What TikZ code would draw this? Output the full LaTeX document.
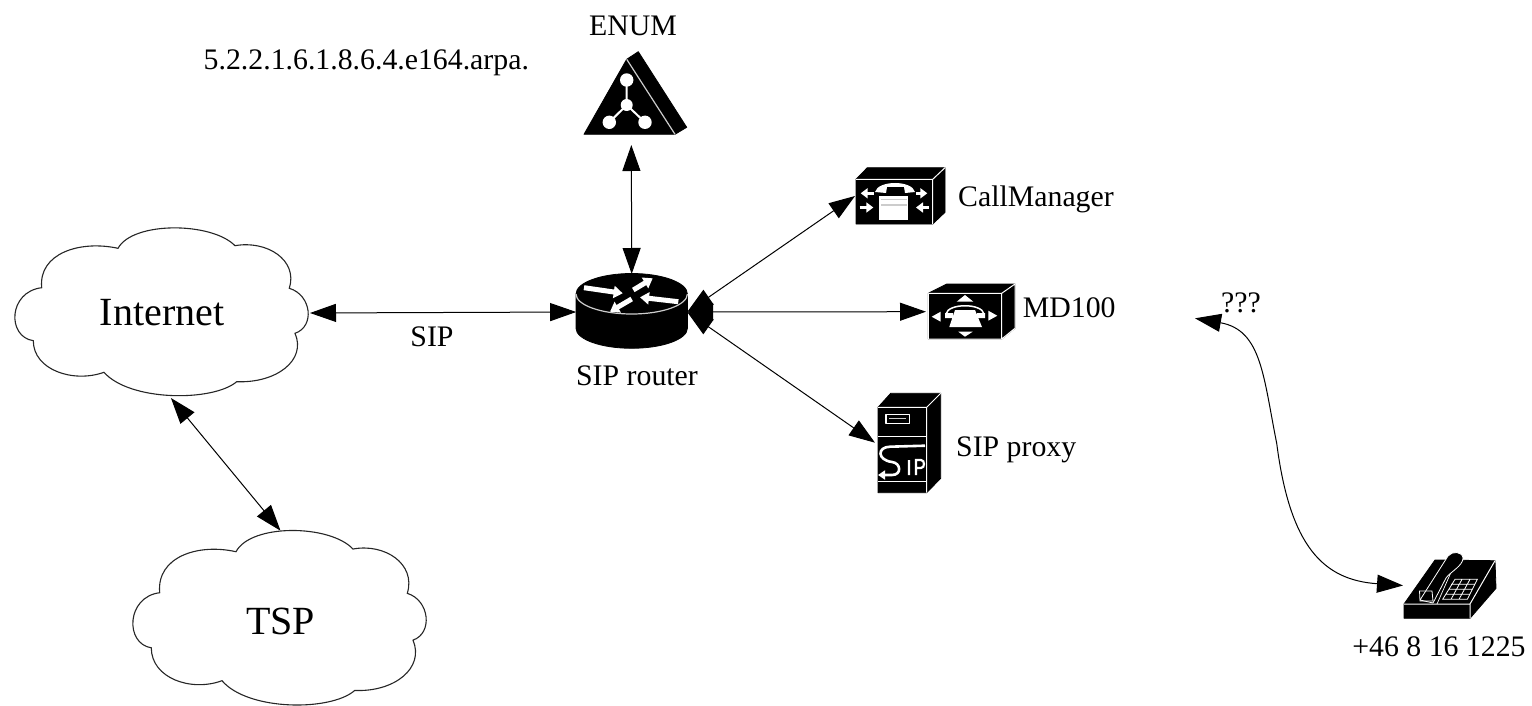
\documentclass[tikz,border=0pt]{standalone}
\usepackage{fontspec}
\setmainfont{Liberation Serif}
\usetikzlibrary{arrows.meta}
\tikzset{
  link/.style={line width=1pt,black,<->,>={Triangle[length=26pt,width=18pt]}},
  cloudline/.style={line width=1.1pt,black!85,fill=white},
  bigtext/.style={font=\fontsize{40}{44}\selectfont,inner sep=0pt,outer sep=0pt},
  small/.style={font=\fontsize{29.8}{34}\selectfont,inner sep=0pt},
  slot/.style={inner sep=0pt,outer sep=0pt,rectangle},
  solid black/.style={fill=black,draw=black,line width=0.8pt,line join=round},
  wline/.style={white,line width=1pt,line join=round},
  gline/.style={black!20,line width=1.2pt,line join=round},
  warrow/.style={white,line width=5pt,-{Triangle[length=9pt,width=12pt]}},
  warrowthin/.style={white,line width=2.6pt,-{Triangle[length=7pt,width=10pt]}}
}
\newcommand{\cloudpath}{(118,248.3) .. controls (133,221) and (212,222) .. (235,245.7)
  .. controls (266.7,240) and (298.3,260) .. (289.3,288.3)
  .. controls (311.7,295) and (315,326.7) .. (295,333.3)
  .. controls (306.7,360) and (276.7,383.3) .. (236.7,381.7)
  .. controls (213.3,401.7) and (130,401.7) .. (104,372.3)
  .. controls (73.3,383.3) and (33.3,370) .. (33.3,340.7)
  .. controls (6.7,336.7) and (8.3,291.7) .. (41.7,287.7)
  .. controls (38.3,253.3) and (80,240) .. (118,248.3) -- cycle}
\begin{document}
\begin{tikzpicture}[x=1pt,y=-1pt]
\useasboundingbox (0,0) rectangle (1532,706);
% clouds
\draw[cloudline] \cloudpath;
\begin{scope}[shift={(118,293.5)},yscale=1.04]
\draw[cloudline] \cloudpath;
\end{scope}
\node[slot,bigtext,minimum width=296pt,minimum height=170pt] (internet) at (162,313) {Internet};
\node[slot,bigtext,minimum width=295pt,minimum height=180.6pt] (tsp) at (280.5,621) {TSP};
% ENUM icon
\fill[solid black] (626.7,59.3) -- (638.3,51.7) -- (686.7,127.3) -- (675,134.3) -- (584,134.3) -- cycle;
\draw[gline] (626.7,59.3) -- (675,134.3);
\draw[white,line width=2pt] (626.7,80) -- (626.7,105) (609.3,122.3) -- (626.7,105) -- (645,122.3);
\fill[white] (626.7,80) circle (6.7pt) (626.7,105) circle (6pt) (609.3,122.3) circle (6.7pt) (645,122.3) circle (6.7pt);
\node[slot,minimum width=110pt,minimum height=82pt] (enum) at (631.3,93) {};
% router icon
\fill[solid black] (576,294) -- (576,328.3) arc[start angle=180,end angle=360,x radius=55.7pt,y radius=20pt] -- (687.4,294) arc[start angle=0,end angle=180,x radius=55.7pt,y radius=20.5pt] -- cycle;
\draw[gline] (576,294) arc[start angle=180,end angle=360,x radius=55.7pt,y radius=20pt];
\draw[warrow] (584,287.7) -- (622.7,293.3);
\draw[warrow] (633.3,290) -- (652.7,278.3);
\draw[warrow] (678.3,301.7) -- (640,297.3);
\draw[warrow] (631.7,299) -- (610,311.7);
\node[slot,minimum width=111pt,minimum height=76pt] (router) at (631.7,312) {};
% CallManager icon
\fill[solid black] (856,179.3) -- (867.3,167.7) -- (945,167.7) -- (945,212.3) -- (932.7,224) -- (856,224) -- cycle;
\draw[wline] (856,179.3) -- (932.7,179.3) -- (932.7,224) (932.7,179.3) -- (945,167.7);
\fill[white] (875,192) .. controls (878,180) and (912,180) .. (915,192) -- (905,193) -- (904,187) -- (887,187) -- (886,193) -- cycle;
\fill[white] (879.3,196) rectangle (908.3,220);
\draw[gline] (881,199.5) -- (906.5,199.5) (881,205) -- (906.5,205);
\draw[warrowthin] (873.5,193.3) -- (860.7,193.3);
\draw[warrowthin] (859.5,207.5) -- (873.3,207.5);
\draw[warrowthin] (916,193.3) -- (927.3,193.3);
\draw[warrowthin] (928.5,207.5) -- (916,207.5);
\node[slot,minimum width=90pt,minimum height=57pt] (cm) at (900,196) {};
% MD100 icon
\fill[solid black] (928.3,293.3) -- (946.7,284) -- (1015,284) -- (1015,328.3) -- (1001.7,339) -- (928.3,339) -- cycle;
\draw[wline] (928.3,293.3) -- (1001.7,293.3) -- (1001.7,339) (1001.7,293.3) -- (1015,284) -- (1015,328.3) -- (1001.7,339) -- (928.3,339) -- (928.3,293.3);
\fill[white] (965,295) -- (956.7,301.7) -- (973.3,301.7) -- cycle;
\fill[white] (965,336.7) -- (958.3,331.7) -- (972.7,331.7) -- cycle;
\fill[white] (931.7,316.7) -- (940.7,311.7) -- (940.7,321.7) -- cycle;
\fill[white] (997.3,315.7) -- (988.3,310.7) -- (988.3,320.7) -- cycle;
\draw[white,line width=1.5pt] (946,314) .. controls (948,303) and (982,303) .. (984,314);
\fill[white] (955,310) -- (975,310) -- (982,327) -- (949.3,327) -- cycle;
\fill[white] (945,313) rectangle (953,318) (977,313) rectangle (985,318);
\node[slot,minimum width=90pt,minimum height=57pt] (md) at (971,311.7) {};
% SIP proxy icon
\fill[solid black] (878,407.3) -- (890.7,393.3) -- (940.7,393.3) -- (940.7,478.3) -- (926.7,492.7) -- (878,492.7) -- cycle;
\draw[wline] (878,407.3) -- (926.7,407.3) -- (926.7,492.7) (926.7,407.3) -- (940.7,393.3);
\draw[wline] (878,436) -- (926.7,436) (878,481.7) -- (926.7,481.7);
\draw[wline,line width=1.2pt] (886,414.3) rectangle (909.3,423.3);
\draw[gline] (889,418.8) -- (906,418.8);
\draw[white,line width=2.6pt,-{Triangle[length=7pt,width=9pt]}] (925,445.7) -- (890,446.7) .. controls (877,447) and (877,460) .. (892,462) .. controls (901,463) and (902,475) .. (892,475) -- (878,475);
\draw[white,line width=2.2pt] (909,460) -- (909,475) (916,475) -- (916,460) -- (921,460) .. controls (925,460) and (925,468) .. (921,468) -- (916,468);
\node[slot,minimum width=64pt,minimum height=100pt] (proxy) at (907,442.7) {};
% telephone icon
\fill[solid black] (1435,560) -- (1495,560.7) -- (1496,588.3) -- (1470,618.3) -- (1404,618.3) -- (1404,604) -- cycle;
\draw[wline] (1404,604) -- (1470,604) -- (1495,560.7) (1470,604) -- (1470,618.3);
\draw[white,line width=.7pt] (1452,570) -- (1437,604);
\fill[black,draw=white,line width=.8pt,line join=round] (1420,600) -- (1448,556) .. controls (1452,551) and (1462,551) .. (1463,558) .. controls (1463,566) and (1450,572) .. (1446,578) -- (1433,603) -- cycle;
\draw[white,line width=.8pt] (1419.5,591) -- (1432,591) -- (1433,601) -- (1420,601) -- cycle;
\draw[white,line width=.8pt] (1455,579.3) -- (1477.3,579.3) -- (1467.3,599.3) -- (1442.7,599.3) -- cycle
  (1451,584.3) -- (1474.8,584.3) (1448.5,589.3) -- (1472.3,589.3) (1445.5,594.3) -- (1469.8,594.3)
  (1462,579.3) -- (1451,599.3) (1470,579.3) -- (1459,599.3);
\node[slot,minimum width=94pt,minimum height=69pt] (phone) at (1450,585.5) {};
\coordinate (unknown) at (1195,318.3);
\coordinate (midcurve) at (1276.7,443.3);
% connectors
\draw[link,shorten <=11pt] (enum.south) -- (router.north);
\draw[link] (internet.east) -- (router.west);
\draw[link] (router.east) -- (cm.west);
\draw[link] (router.east) -- (md.west);
\draw[link] (router.east) -- (proxy.west);
\draw[link] (internet.-84.6) -- (tsp.north);
\draw[link] (unknown) .. controls (1261.7,330) and (1263.3,376.7) .. (midcurve)
  .. controls (1290,546.7) and (1323.3,580) .. (phone.west);
% labels
\node[small,anchor=base] (lenum) at (633,36) {ENUM};
\node[small,anchor=base west] (ldns) at (203.5,70) {5.2.2.1.6.1.8.6.4.e164.arpa.};
\node[small,anchor=base west] (lcm) at (958,206.7) {CallManager};
\node[small,anchor=base west] (lmd) at (1022.7,317.7) {MD100};
\node[small,anchor=base west] (lq) at (1221,312) {???};
\node[small,anchor=base west] (lproxy) at (956,456.7) {SIP proxy};
\node[small,anchor=base] (lsip) at (432,346.7) {SIP};
\node[small,anchor=base] (lrouter) at (637,385.7) {SIP router};
\node[small,anchor=base] (lphone) at (1439,656) {+46 8 16 1225};
\end{tikzpicture}
\end{document}
